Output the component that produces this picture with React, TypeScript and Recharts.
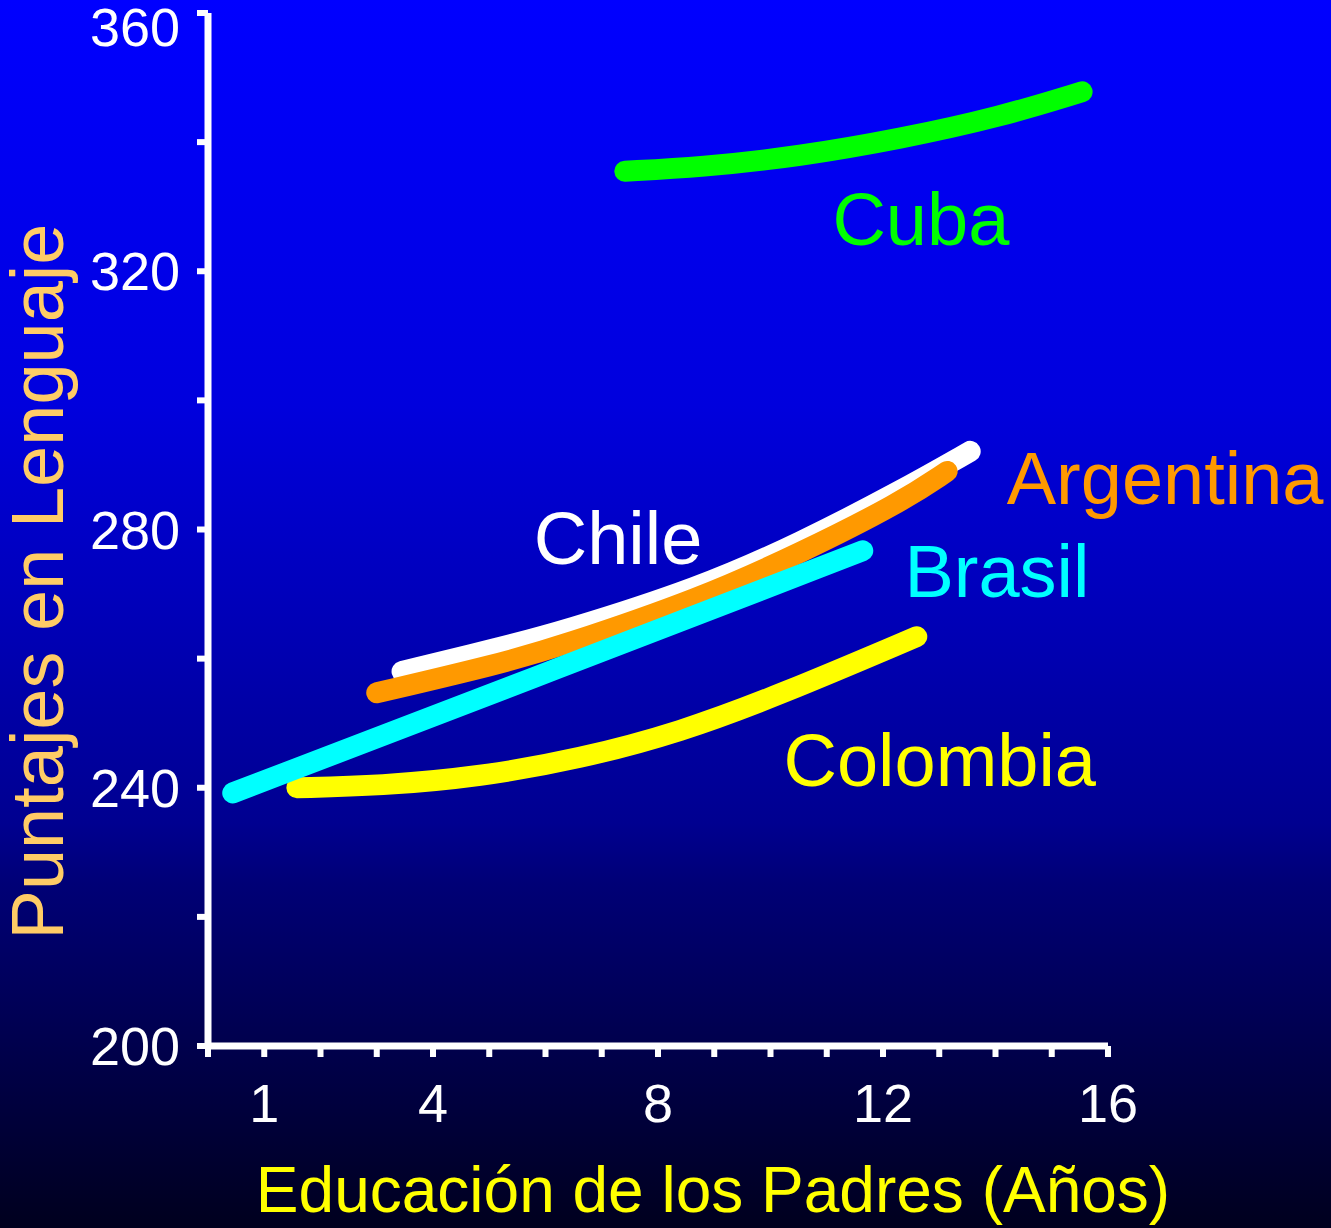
import { LineChart, Line, XAxis, YAxis, ReferenceDot } from "recharts";

// values (x = years of parents' education, y = language score)
const cuba = [
  { x: 7.41, y: 335.5 },
  { x: 8.75, y: 336.1 },
  { x: 10.52, y: 337.8 },
  { x: 12.3, y: 340.5 },
  { x: 14.08, y: 343.9 },
  { x: 15.54, y: 347.8 },
];

const chile = [
  { x: 3.45, y: 258.0 },
  { x: 5.19, y: 261.7 },
  { x: 6.26, y: 264.1 },
  { x: 8.75, y: 271.0 },
  { x: 10.52, y: 277.9 },
  { x: 12.3, y: 285.9 },
  { x: 13.55, y: 292.1 },
];

const argentina = [
  { x: 3.0, y: 254.7 },
  { x: 5.19, y: 259.2 },
  { x: 6.26, y: 261.9 },
  { x: 8.75, y: 269.3 },
  { x: 10.52, y: 276.3 },
  { x: 12.3, y: 284.1 },
  { x: 13.14, y: 289.0 },
];

const brasil = [
  { x: 0.44, y: 239.2 },
  { x: 6.26, y: 258.6 },
  { x: 11.64, y: 276.7 },
];

const colombia = [
  { x: 1.58, y: 240.0 },
  { x: 3.06, y: 240.3 },
  { x: 4.84, y: 241.7 },
  { x: 6.61, y: 244.5 },
  { x: 8.39, y: 248.6 },
  { x: 10.17, y: 254.4 },
  { x: 12.6, y: 263.4 },
];

const X_TICKS = [0, 1, 2, 3, 4, 5, 6, 7, 8, 9, 10, 11, 12, 13, 14, 15, 16];
const X_LABELS = [1, 4, 8, 12, 16];
const Y_TICKS = [200, 220, 240, 260, 280, 300, 320, 340, 360];
const Y_LABELS = [200, 240, 280, 320, 360];

// where each country name sits (left edge, baseline), in data units
const seriesLabels = [
  { name: "Cuba", x: 11.1, y: 324.0, color: "#00ff00" },
  { name: "Argentina", x: 14.2, y: 283.9, color: "#ff9900" },
  { name: "Chile", x: 5.79, y: 274.6, color: "#ffffff" },
  { name: "Brasil", x: 12.38, y: 269.6, color: "#00ffff" },
  { name: "Colombia", x: 10.23, y: 240.3, color: "#ffff00" },
];

const FONT = "'Liberation Sans', Arial, Helvetica, sans-serif";

const renderYTick = (props: any) => {
  const { x, y, payload } = props;
  if (!Y_LABELS.includes(payload.value)) return <g />;
  // top label is pushed down so it stays inside the picture
  const cy = Math.max(y, 27);
  return (
    <text x={x} y={cy} dy={19} textAnchor="end" fill="#ffffff" fontSize={54} fontFamily={FONT}>
      {payload.value}
    </text>
  );
};

const renderXTick = (props: any) => {
  const { x, y, payload } = props;
  if (!X_LABELS.includes(payload.value)) return <g />;
  return (
    <text x={x} y={y} dy={21} textAnchor="middle" fill="#ffffff" fontSize={54} fontFamily={FONT}>
      {payload.value}
    </text>
  );
};

const renderXTitle = (props: any) => {
  const vb = props.viewBox;
  return (
    <text
      x={vb.x + vb.width / 2 + 55}
      y={vb.y + 166}
      textAnchor="middle"
      fill="#ffff00"
      fontSize={64}
      fontFamily={FONT}
    >
      Educación de los Padres (Años)
    </text>
  );
};

const renderYTitle = (props: any) => {
  const vb = props.viewBox;
  const cx = vb.x + 63;
  const cy = vb.y + vb.height / 2 + 52;
  return (
    <text
      x={cx}
      y={cy}
      transform={`rotate(-90 ${cx} ${cy})`}
      textAnchor="middle"
      fill="#ffcc66"
      fontSize={74}
      fontFamily={FONT}
    >
      Puntajes en Lenguaje
    </text>
  );
};

const makeNameLabel = (name: string, color: string) => (props: any) => {
  const vb = props.viewBox;
  return (
    <text x={vb.x} y={vb.y} fill={color} fontSize={74} fontFamily={FONT}>
      {name}
    </text>
  );
};

export default function App() {
  return (
    <div
      style={{
        position: "absolute",
        left: 0,
        top: 0,
        width: 1331,
        height: 1228,
        overflow: "hidden",
        background:
          "linear-gradient(to bottom, #0000ff 0%, #0000dd 33%, #0000b8 50%, #000090 67%, #000076 72%, #00001e 100%)",
      }}
    >
      <LineChart width={1331} height={1228} margin={{ top: 13, right: 223, bottom: 0, left: 0 }}>
        <XAxis
          type="number"
          dataKey="x"
          domain={[0, 16]}
          ticks={X_TICKS}
          interval={0}
          height={182}
          axisLine={{ stroke: "#ffffff", strokeWidth: 7 }}
          tickLine={{ stroke: "#ffffff", strokeWidth: 6 }}
          tickSize={11}
          tickMargin={44}
          tick={renderXTick}
          label={renderXTitle}
        />
        <YAxis
          type="number"
          dataKey="y"
          domain={[200, 360]}
          ticks={Y_TICKS}
          interval={0}
          width={208}
          axisLine={{ stroke: "#ffffff", strokeWidth: 7 }}
          tickLine={{ stroke: "#ffffff", strokeWidth: 6 }}
          tickSize={11}
          tickMargin={17}
          tick={renderYTick}
          label={renderYTitle}
        />
        <Line
          data={cuba}
          dataKey="y"
          type="basis"
          stroke="#00ff00"
          strokeWidth={21}
          strokeLinecap="round"
          dot={false}
          activeDot={false}
          isAnimationActive={false}
        />
        <Line
          data={colombia}
          dataKey="y"
          type="basis"
          stroke="#ffff00"
          strokeWidth={21}
          strokeLinecap="round"
          dot={false}
          activeDot={false}
          isAnimationActive={false}
        />
        <Line
          data={chile}
          dataKey="y"
          type="basis"
          stroke="#ffffff"
          strokeWidth={21}
          strokeLinecap="round"
          dot={false}
          activeDot={false}
          isAnimationActive={false}
        />
        <Line
          data={argentina}
          dataKey="y"
          type="basis"
          stroke="#ff9900"
          strokeWidth={21}
          strokeLinecap="round"
          dot={false}
          activeDot={false}
          isAnimationActive={false}
        />
        <Line
          data={brasil}
          dataKey="y"
          type="basis"
          stroke="#00ffff"
          strokeWidth={21}
          strokeLinecap="round"
          dot={false}
          activeDot={false}
          isAnimationActive={false}
        />
        {seriesLabels.map((s) => (
          <ReferenceDot
            key={s.name}
            x={s.x}
            y={s.y}
            r={0}
            fill="none"
            stroke="none"
            label={makeNameLabel(s.name, s.color)}
          />
        ))}
      </LineChart>
    </div>
  );
}
